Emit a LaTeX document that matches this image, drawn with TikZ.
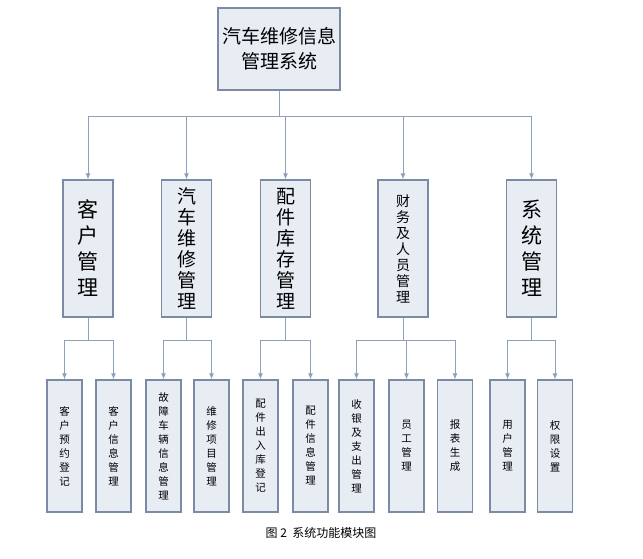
\documentclass[tikz,border=0pt]{standalone}
\usepackage{fontspec}
\setmainfont{Noto Sans CJK SC}
\usetikzlibrary{arrows.meta,calc}
\definecolor{boxline}{HTML}{7B8BA6}
\definecolor{boxfill}{HTML}{E8ECF3}
\definecolor{wire}{HTML}{8DA0BC}
\tikzset{
  topbox/.style={draw=boxline,fill=boxfill,line width=1.2pt,minimum width=122pt,minimum height=82pt,align=center,font=\fontsize{19}{25}\selectfont},
  midbox/.style={draw=boxline,fill=boxfill,line width=1.2pt,minimum width=50pt,minimum height=137pt,align=center,inner sep=0pt},
  leafbox/.style={draw=boxline,fill=boxfill,line width=1.2pt,minimum width=35pt,minimum height=132pt,align=center,inner sep=0pt,font=\fontsize{10.5}{14}\selectfont},
  wired/.style={draw=wire,line width=1pt,-{Latex[length=6pt,width=5pt]}}
}
\begin{document}
\begin{tikzpicture}[x=1pt,y=-1pt]
        \useasboundingbox (0,0) rectangle (643,559);
        \fill[white] (0,0) rectangle (643,559);

        % Root
        \node[topbox] (root) at (279,49) {汽车维修信息\\管理系统};

        % Second level
        \node[midbox,font=\fontsize{21}{26}\selectfont] (kehu) at (88,248.5) {客\\户\\管\\理};
        \node[midbox,font=\fontsize{19}{21}\selectfont] (weixiu) at (186.5,248.5) {汽\\车\\维\\修\\管\\理};
        \node[midbox,font=\fontsize{19}{21}\selectfont] (peijian) at (285.5,248.5) {配\\件\\库\\存\\管\\理};
        \node[midbox,font=\fontsize{14}{16}\selectfont] (caiwu) at (403,248.5) {财\\务\\及\\人\\员\\管\\理};
        \node[midbox,font=\fontsize{21}{26}\selectfont] (xitong) at (531.5,248.5) {系\\统\\管\\理};

        % Third level
        \node[leafbox] (yuyue) at (64.5,446) {客\\户\\预\\约\\登\\记};
        \node[leafbox] (khxx) at (113.5,446) {客\\户\\信\\息\\管\\理};
        \node[leafbox] (guzhang) at (163.5,446) {故\\障\\车\\辆\\信\\息\\管\\理};
        \node[leafbox] (xiangmu) at (211.5,446) {维\\修\\项\\目\\管\\理};
        \node[leafbox] (churu) at (260.5,446) {配\\件\\出\\入\\库\\登\\记};
        \node[leafbox] (pjxx) at (310.5,446) {配\\件\\信\\息\\管\\理};
        \node[leafbox] (shouzhi) at (356.5,446) {收\\银\\及\\支\\出\\管\\理};
        \node[leafbox] (yuangong) at (406.5,446) {员\\工\\管\\理};
        \node[leafbox] (baobiao) at (455,446) {报\\表\\生\\成};
        \node[leafbox] (yonghu) at (507.5,446) {用\\户\\管\\理};
        \node[leafbox] (quanxian) at (555,446) {权\\限\\设\\置};

        % Root to second level
        \foreach \c in {kehu,weixiu,peijian,caiwu,xitong}
          \draw[wired] (root.south) -- (root.south |- 0,117) -| (\c.north);

        % Second level to third level
        \foreach \p/\c in {kehu/yuyue,kehu/khxx,weixiu/guzhang,weixiu/xiangmu,peijian/churu,peijian/pjxx,caiwu/shouzhi,caiwu/yuangong,caiwu/baobiao,xitong/yonghu,xitong/quanxian}
          \draw[wired] (\p.south) -- (\p.south |- 0,340) -| (\c.north);

        % Caption
        \node[font=\fontsize{12}{14}\selectfont] (caption) at (321,533) {图 2\ \ 系统功能模块图};
\end{tikzpicture}
\end{document}
